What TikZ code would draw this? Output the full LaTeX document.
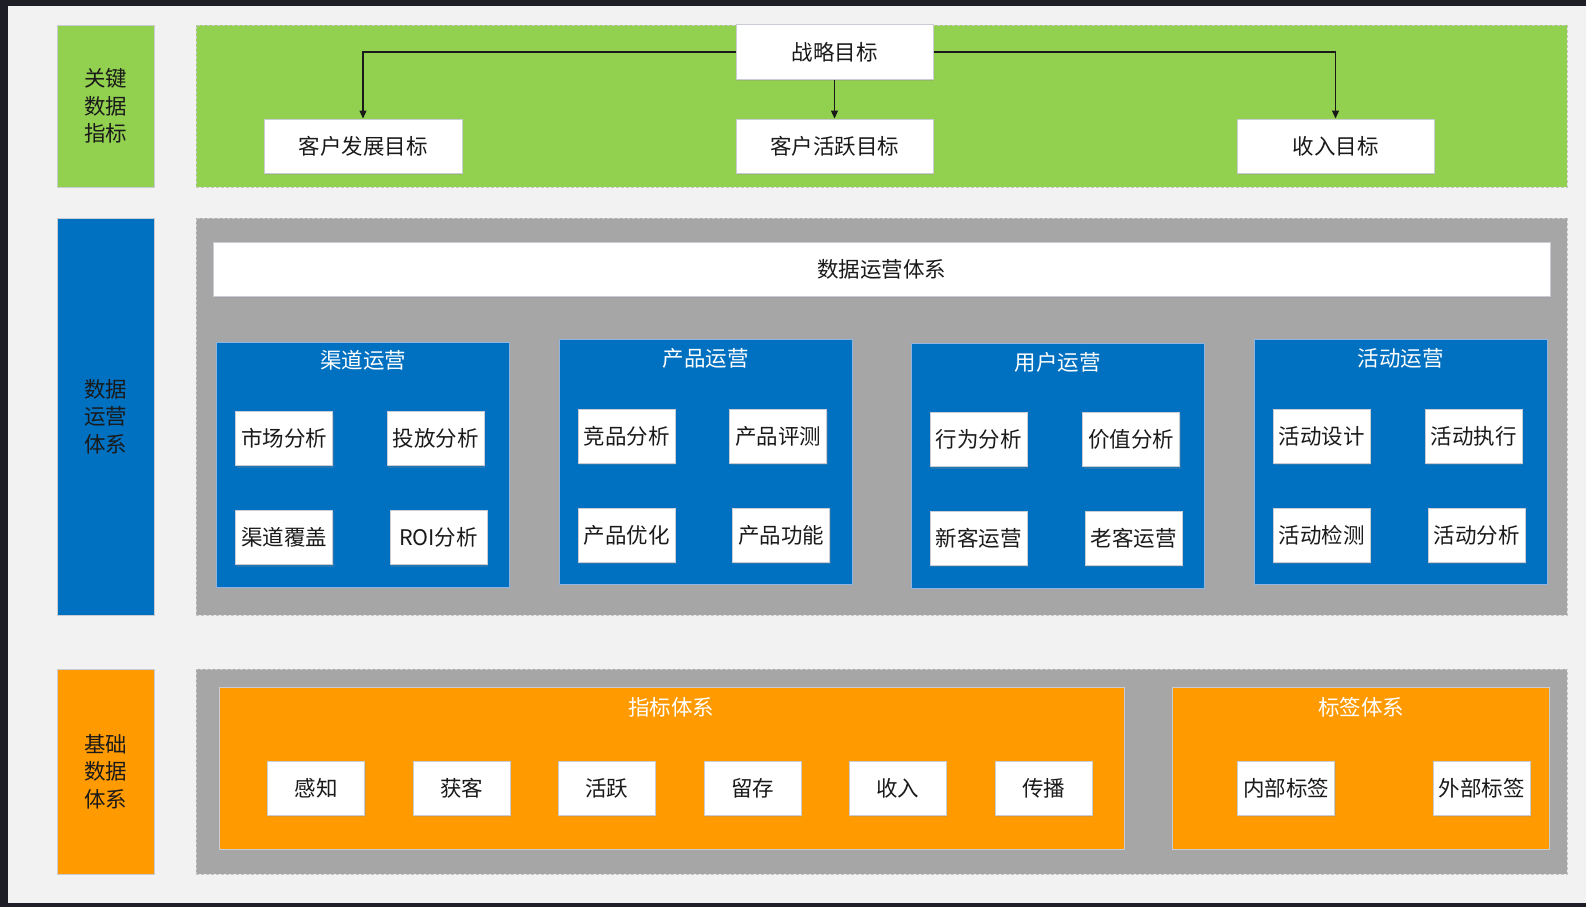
\documentclass[tikz,border=0pt]{standalone}
\usepackage{fontspec}
\setmainfont{Noto Sans CJK SC}
\usetikzlibrary{arrows.meta,shadows}
\definecolor{kframe}{HTML}{1E1F26}
\definecolor{kbg}{HTML}{F2F2F2}
\definecolor{kgreen}{HTML}{92D050}
\definecolor{kblue}{HTML}{0070C0}
\definecolor{korange}{HTML}{FF9A00}
\definecolor{kgray}{HTML}{A6A6A6}
\definecolor{kline}{HTML}{C9CDD3}
\definecolor{kblueline}{HTML}{8DB4E2}
\definecolor{ktext}{HTML}{1A1A1A}
\begin{document}
\begin{tikzpicture}[x=1pt,y=-1pt,
  font=\fontsize{21.5}{27.5}\selectfont,
  wbox/.style={draw=kline, line width=1pt, fill=white, minimum width=97pt,
    minimum height=54pt, inner sep=0pt, text=ktext,
    drop shadow={shadow xshift=1pt,shadow yshift=-2pt,opacity=0.25,fill=black!45}},
  gbox/.style={wbox, minimum width=197pt},
  lblbox/.style={draw=kline, line width=0.8pt, minimum width=97pt, inner sep=0pt,
    align=center, text=ktext},
  panel/.style={draw=black!22, dash pattern=on 3pt off 2pt, line width=0.8pt,
    minimum width=1371pt, inner sep=0pt},
  bluebox/.style={draw=kblueline, line width=0.8pt, fill=kblue, minimum width=293pt,
    minimum height=245pt, inner sep=0pt},
  orbox/.style={draw=kline, line width=0.8pt, fill=korange, minimum height=162pt, inner sep=0pt},
  ttl/.style={text=white, inner sep=0pt},
  arr/.style={draw=black!90, line width=1.2pt, -{Triangle[length=8pt,width=7pt]}}]
\useasboundingbox (0,0) rectangle (1586,907);
\fill[kframe] (0,0) rectangle (1586,907);
\fill[kbg] (8,6) rectangle (1586,903);

% left label column
\node[lblbox, fill=kgreen, minimum height=162pt] (L1) at (105.5,106) {关键\\数据\\指标};
\node[lblbox, fill=kblue, minimum height=397pt] (L2) at (105.5,416.5) {数据\\运营\\体系};
\node[lblbox, fill=korange, minimum height=205pt] (L3) at (105.5,771.5) {基础\\数据\\体系};

% panels
\node[panel, fill=kgreen, minimum height=162pt] (P1) at (881.5,106) {};
\node[panel, fill=kgray, minimum height=397pt] (P2) at (881.5,416.5) {};
\node[panel, fill=kgray, minimum height=205pt] (P3) at (881.5,771.5) {};

% key indicators
\node[gbox, minimum width=197pt] (goal) at (834.5,52) {战略目标};
\node[gbox, minimum width=198pt] (kf) at (363,146) {客户发展目标};
\node[gbox] (hy) at (834.5,146) {客户活跃目标};
\node[gbox] (sr) at (1335.5,146) {收入目标};
\draw[arr] (goal.west) -| (kf.north);
\draw[arr] (goal.east) -| (sr.north);
\draw[arr] (goal.south) -- (hy.north);

% data operation system
\node[wbox, minimum width=1337pt] (bar) at (881.5,269) {数据运营体系};

\node[bluebox] (B1) at (363,464.5) {};
\node[ttl] (T1) at (363,360) {渠道运营};
\node[wbox] (b11) at (284,438.5) {市场分析};
\node[wbox] (b12) at (435.5,438.5) {投放分析};
\node[wbox] (b13) at (284,537.5) {渠道覆盖};
\node[wbox] (b14) at (438.5,537.5) {ROI分析};

\node[bluebox] (B2) at (705.5,462) {};
\node[ttl] (T2) at (705.5,358) {产品运营};
\node[wbox] (b21) at (626.5,436) {竞品分析};
\node[wbox] (b22) at (778,436) {产品评测};
\node[wbox] (b23) at (626.5,535) {产品优化};
\node[wbox] (b24) at (781,535) {产品功能};

\node[bluebox] (B3) at (1057.5,465.5) {};
\node[ttl] (T3) at (1057.5,362) {用户运营};
\node[wbox] (b31) at (978.5,439.5) {行为分析};
\node[wbox] (b32) at (1131,439.5) {价值分析};
\node[wbox] (b33) at (978.5,538) {新客运营};
\node[wbox] (b34) at (1133.5,538) {老客运营};

\node[bluebox] (B4) at (1400.5,462) {};
\node[ttl] (T4) at (1400.5,358) {活动运营};
\node[wbox] (b41) at (1321.5,436) {活动设计};
\node[wbox] (b42) at (1473.5,436) {活动执行};
\node[wbox] (b43) at (1321.5,535) {活动检测};
\node[wbox] (b44) at (1476.5,535) {活动分析};

% base data system
\node[orbox, minimum width=905pt] (O1) at (671.5,768) {};
\node[ttl] (T5) at (671,707) {指标体系};
\node[wbox] (c1) at (316,788) {感知};
\node[wbox] (c2) at (461.5,788) {获客};
\node[wbox] (c3) at (606.5,788) {活跃};
\node[wbox] (c4) at (752.5,788) {留存};
\node[wbox] (c5) at (897.5,788) {收入};
\node[wbox] (c6) at (1043.5,788) {传播};

\node[orbox, minimum width=377pt] (O2) at (1360.5,768) {};
\node[ttl] (T6) at (1361,707) {标签体系};
\node[wbox] (d1) at (1286,788) {内部标签};
\node[wbox] (d2) at (1481.5,788) {外部标签};
\end{tikzpicture}
\end{document}
